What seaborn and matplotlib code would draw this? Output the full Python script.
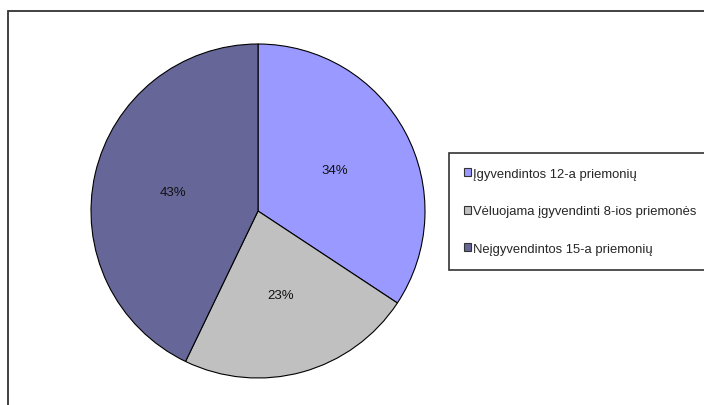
import matplotlib
matplotlib.use('Agg')
import matplotlib.pyplot as plt
from matplotlib.patches import Rectangle
import seaborn as sns

# 데이터
labels = ['Įgyvendintos 12-a priemonių',
          'Vėluojama įgyvendinti 8-ios priemonės',
          'Neįgyvendintos 15-a priemonių']
counts = [12, 8, 15]
colors = ['#9999FF', '#C0C0C0', '#666699']

sns.set_theme(style='white')
plt.rcParams['font.family'] = ['Liberation Sans', 'DejaVu Sans']

fig = plt.figure(figsize=(7.04, 4.06), dpi=100)
ax = fig.add_axes([0, 0, 1, 1])

# 바깥 테두리
fig.patches.append(Rectangle((8 / 704, -0.1), 1.2, 1 - 12 / 406 + 0.1,
                             transform=fig.transFigure, fill=False,
                             edgecolor='#333333', linewidth=1.3))

wedges, texts, autotexts = ax.pie(counts,
                                  colors=colors,
                                  startangle=90,
                                  counterclock=False,
                                  center=(258, 194),
                                  radius=167,
                                  autopct='%1.0f%%',
                                  pctdistance=0.52,
                                  wedgeprops={'edgecolor': 'black', 'linewidth': 0.8},
                                  textprops={'fontsize': 9.5, 'color': '#111111'},
                                  frame=True)
ax.axis('off')
ax.set_xlim(0, 704)
ax.set_ylim(0, 406)

leg = ax.legend(wedges, labels,
                loc='upper left',
                bbox_to_anchor=(449 / 704, 1 - 154 / 406),
                bbox_transform=fig.transFigure,
                borderaxespad=0,
                fontsize=9.4,
                handlelength=0.55,
                handleheight=0.55,
                handletextpad=0.15,
                labelspacing=1.95,
                borderpad=1.15,
                fancybox=False,
                framealpha=1)
leg.get_frame().set_edgecolor('#333333')
leg.get_frame().set_linewidth(1.2)
for h in leg.legend_handles:
    h.set_edgecolor('#333333')
    h.set_linewidth(0.8)

fig.savefig('out.png', dpi=100)
